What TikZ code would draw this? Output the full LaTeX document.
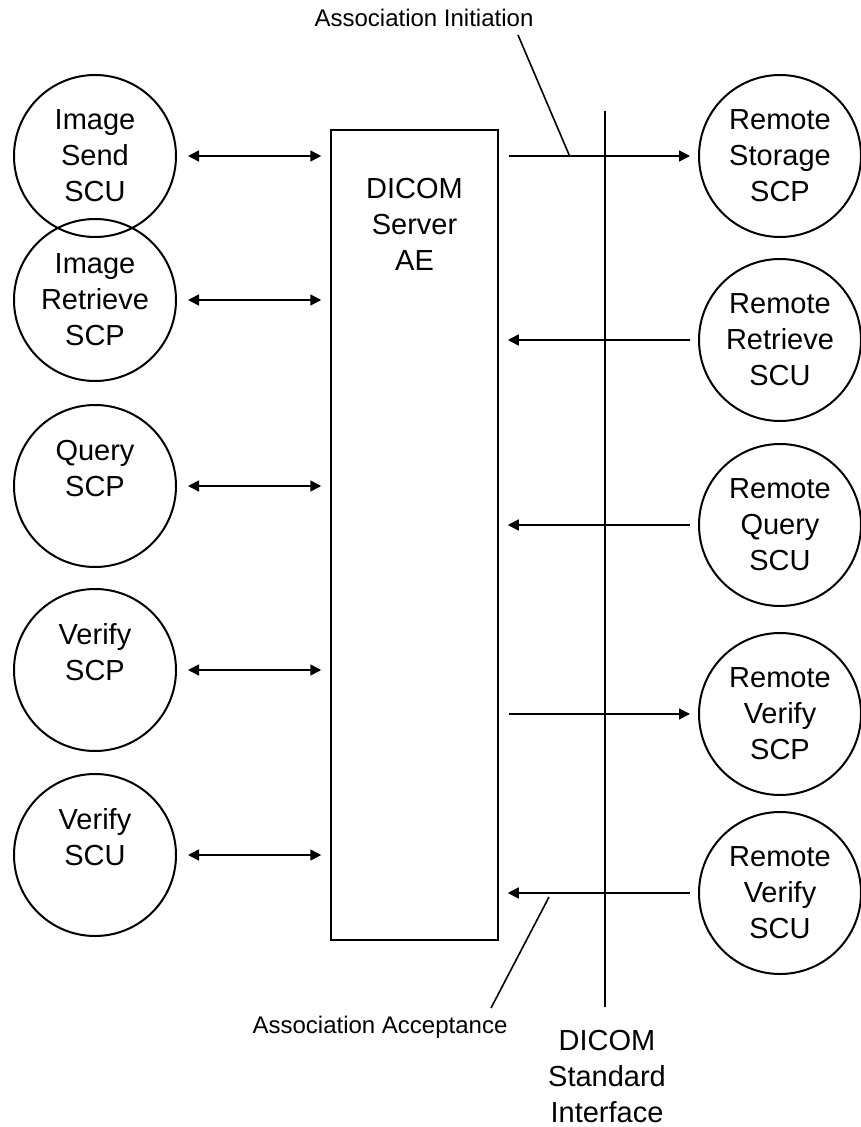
\documentclass[tikz,border=0pt]{standalone}
\usepackage{fontspec}
\setmainfont{Liberation Sans}
\usetikzlibrary{arrows.meta}
\newcommand\aefont{\fontsize{14.5}{18}\selectfont}

\begin{document}
\begin{tikzpicture}[x=0.5pt,y=-0.5pt,
  ae/.style={circle,draw,line width=1pt,minimum size=81pt,inner sep=0pt,
             align=center,font=\aefont},
  arr/.style={-{Triangle[length=5.5pt,width=5.5pt]},line width=0.8pt},
  biarr/.style={{Triangle[length=5.5pt,width=5.5pt]}-{Triangle[length=5.5pt,width=5.5pt]},
                line width=0.8pt,shorten <=5.5pt,shorten >=4.5pt},
  lab/.style={font=\fontsize{12}{14}\selectfont,inner sep=0pt}]
  \useasboundingbox (0,0) rectangle (860,1127);
  % local entities
  \node[ae] (imgsend) at (95,156) {Image\\Send\\SCU};
  \node[ae] (imgret) at (95,300) {Image\\Retrieve\\SCP};
  \node[ae] (query) at (95,486) {Query\\SCP\\\mbox{}};
  \node[ae] (vscp) at (95,670) {Verify\\SCP\\\mbox{}};
  \node[ae] (vscu) at (95,855) {Verify\\SCU\\\mbox{}};
  % server AE
  \node[draw,line width=0.75pt,minimum width=83.5pt,minimum height=405pt,
        inner sep=0pt] (server) at (414.5,535) {};
  \node[align=center,font=\aefont] (servertxt) at (414.5,224) {DICOM\\Server\\AE};
  % remote entities
  \node[ae] (rstore) at (780,156) {Remote\\Storage\\SCP};
  \node[ae] (rretr) at (780,340) {Remote\\Retrieve\\SCU};
  \node[ae] (rquery) at (780,525) {Remote\\Query\\SCU};
  \node[ae] (rvscp) at (780,714) {Remote\\Verify\\SCP};
  \node[ae] (rvscu) at (780,893) {Remote\\Verify\\SCU};
  % interface
  \coordinate (ifacetop) at (605,111);
  \coordinate (ifacebot) at (605,1007);
  \draw[line width=1.2pt] (ifacetop) -- (ifacebot);
  \node[align=center,font=\aefont] (ifacetxt) at (607,1077) {DICOM\\Standard\\Interface};
  % connectors
  \foreach \n in {imgsend,imgret,query,vscp,vscu}
    \draw[biarr] (\n.east) -- (\n.east -| server.west);
  \foreach \n in {rstore,rvscp}
    \draw[arr,shorten <=5pt,shorten >=4pt] (server.east |- \n.west) -- (\n.west);
  \foreach \n in {rretr,rquery,rvscu}
    \draw[arr,shorten <=4pt,shorten >=4.5pt] (\n.west) -- (server.east |- \n.west);
  % labels
  \node[lab] (associnit) at (424,18) {Association Initiation};
  \coordinate (inittop) at (518,35);
  \coordinate (initfoot) at (570,157);
  \draw[line width=0.8pt] (inittop) -- (initfoot);
  \node[lab] (assocacc) at (380,1027) {Association Acceptance};
  \coordinate (acctop) at (549,897);
  \coordinate (accfoot) at (491,1008);
  \draw[line width=0.8pt] (acctop) -- (accfoot);
\end{tikzpicture}
\end{document}
